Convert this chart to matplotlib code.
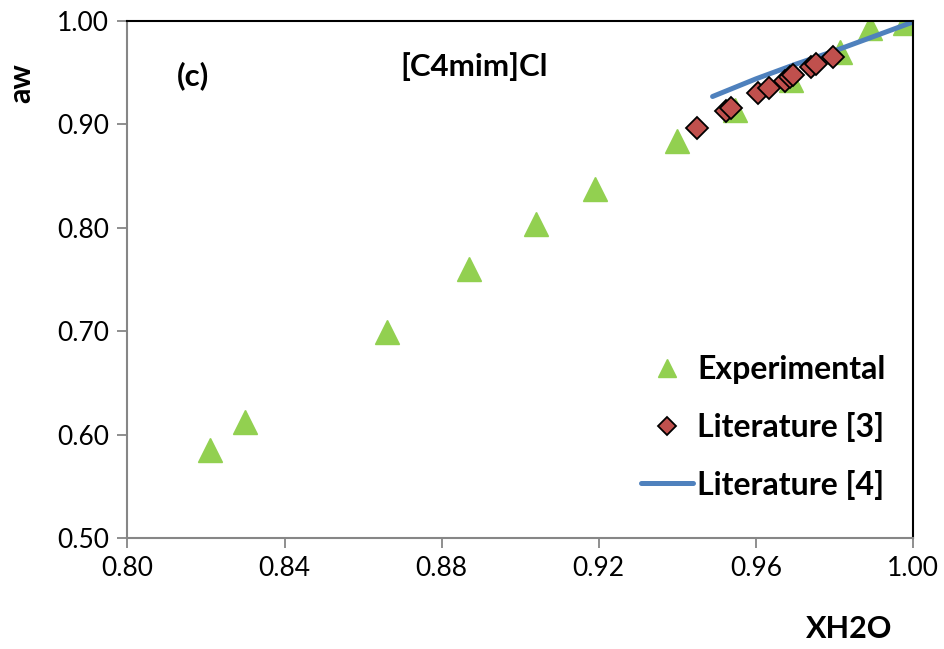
import matplotlib
matplotlib.use("Agg")
import matplotlib.pyplot as plt
import numpy as np

plt.rcParams['font.family'] = ['Lato', 'DejaVu Sans']

# water mole fraction vs water activity, [C4mim]Cl
x_exp = [0.821, 0.830, 0.866, 0.887, 0.904, 0.919, 0.940, 0.9547, 0.969, 0.9814, 0.989, 0.998]
aw_exp = [0.585, 0.612, 0.699, 0.760, 0.804, 0.838, 0.884, 0.914, 0.943, 0.970, 0.993, 0.998]

x_lit3 = [0.9451, 0.9524, 0.9536, 0.9606, 0.9634, 0.9674, 0.9687, 0.9695, 0.9740, 0.9753, 0.9797]
aw_lit3 = [0.8962, 0.9133, 0.9156, 0.9301, 0.9349, 0.9423, 0.9456, 0.9478, 0.9558, 0.9584, 0.9655]

x_lit4 = [0.949, 0.960, 0.970, 0.980, 0.990, 1.000]
aw_lit4 = [0.927, 0.944, 0.958, 0.971, 0.985, 0.999]

fig = plt.figure(figsize=(9.44, 6.49), dpi=100)
ax = fig.add_axes([0.135, 0.171, 0.832, 0.7966])

ax.plot(x_lit4, aw_lit4, color='#4F81BD', lw=3.6, solid_capstyle='round',
        label='Literature [4]', zorder=2)
ax.plot(x_exp, aw_exp, ls='none', marker='^', ms=17, color='#92D050',
        mec='#92D050', label='Experimental', zorder=1)
ax.plot(x_lit3, aw_lit3, ls='none', marker='D', ms=11.5, mfc='#C0504D',
        mec='black', mew=1.3, label='Literature [3]', zorder=3)

ax.set_xlim(0.80, 1.00)
ax.set_ylim(0.50, 1.00)
ax.set_xticks(np.arange(0.80, 1.001, 0.04))
ax.set_yticks(np.arange(0.50, 1.001, 0.10))
ax.xaxis.set_major_formatter(matplotlib.ticker.FormatStrFormatter('%.2f'))
ax.yaxis.set_major_formatter(matplotlib.ticker.FormatStrFormatter('%.2f'))
ax.tick_params(axis='both', direction='out', length=7, width=1.3,
               color='#868686', labelsize=19, pad=6)

for side in ['left', 'bottom']:
    ax.spines[side].set_color('#868686')
    ax.spines[side].set_linewidth(1.5)
for side in ['top', 'right']:
    ax.spines[side].set_color('black')
    ax.spines[side].set_linewidth(1.5)

fig.text(0.023, 0.872, 'aw', rotation=90, fontsize=22, fontweight='bold',
         ha='center', va='center')
fig.text(0.899, 0.031, 'XH2O', fontsize=22, fontweight='bold',
         ha='center', va='center')
ax.text(0.204, 0.884, '(c)', transform=fig.transFigure, fontsize=22.5,
        fontweight='bold', ha='center', va='center')
ax.text(0.502, 0.897, '[C4mim]Cl', transform=fig.transFigure, fontsize=22.5,
        fontweight='bold', ha='center', va='center')

handles, labels = ax.get_legend_handles_labels()
order = [1, 2, 0]
leg = ax.legend([handles[i] for i in order], [labels[i] for i in order],
                loc='upper left', bbox_to_anchor=(0.679, 0.453),
                bbox_transform=fig.transFigure, frameon=False,
                prop={'size': 23, 'weight': 'bold'}, handlelength=1.63,
                handletextpad=0.12, labelspacing=0.87, borderaxespad=0,
                borderpad=0, markerscale=0.8)

fig.savefig('out.png', dpi=100)
